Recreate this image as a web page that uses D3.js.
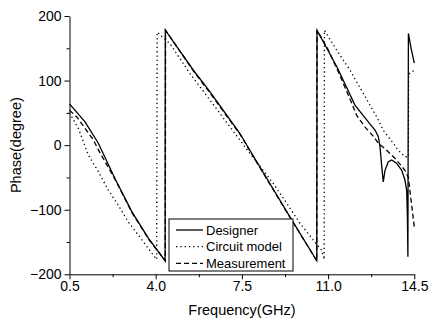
<!DOCTYPE html>
<html>
<head>
<meta charset="utf-8">
<script src="https://cdn.jsdelivr.net/npm/d3@7"></script>
<style>
  body { margin: 0; background: #fff; }
  svg { font-family: "Liberation Sans", Arial, sans-serif; }
  .axis path, .axis line { stroke: #000; stroke-width: 1; }
  .axis text { font-size: 14px; fill: #000; }
</style>
</head>
<body>
<svg id="chart" width="431" height="322"></svg>
<script>
// Designer (solid)
const designerFreq = [0.5, 1.13, 1.67, 2.35, 3.03, 3.7, 4.38,
  4.39, 5.53, 6.2, 7.42, 8.03, 9.45, 10.54,
  10.55, 11.36, 12.09, 12.63, 12.91, 13.04, 13.11, 13.18, 13.24, 13.31, 13.44, 13.58, 13.78, 13.99, 14.12, 14.19, 14.22, 14.24,
  14.26, 14.37, 14.5];
const designerPhase = [64, 36, 3, -52, -103, -144, -179,
  178, 116, 83, 18, -21, -111, -179,
  178, 121, 62, 36, 23, 13, -3, -34, -57, -39, -26, -23, -28, -39, -54, -70, -110, -173,
  173, 150, 127];

// Circuit model (dotted)
const circuitFreq = [0.5, 0.86, 1.26, 1.67, 2.08, 2.48, 2.89, 3.29, 3.7, 4.04,
  4.06, 4.58, 5.39, 6.2, 7.02, 7.83, 8.77, 9.32, 9.86, 10.4, 10.74, 10.84,
  10.85, 11.35, 11.89, 12.43, 12.97, 13.24, 13.44, 13.65, 13.85, 14.12, 14.26,
  14.27, 14.5];
const circuitPhase = [50, 26, -15, -41, -70, -93, -119, -139, -160, -177,
  175, 157, 111, 70, 28, -13, -59, -90, -121, -147, -163, -177,
  178, 147, 116, 80, 44, 23, 13, 3, -8, -18, -18,
  110, 116];

// Measurement (dashed)
const measureFreq = [0.5, 0.79, 1.13, 1.47, 1.74, 2.35, 3.03, 3.7, 4.39,
  4.4, 5.53, 6.2, 7.42, 8.03, 9.45, 10.54,
  10.55, 11.0, 11.41, 11.96, 12.16, 12.5, 12.83, 13.04, 13.38, 13.78, 14.12, 14.26, 14.32, 14.42, 14.5];
const measurePhase = [54, 44, 26, 8, -12, -53, -104, -145, -179,
  178, 115, 81, 17, -22, -112, -179,
  178, 148, 114, 65, 46, 28, 14, 3, -8, -23, -39, -50, -70, -101, -127];

const xMajor = [0.5, 4.0, 7.5, 11.0, 14.5];
const xMinor = [2.25, 5.75, 9.25, 12.75];
const yMajor = [-200, -100, 0, 100, 200];
const yMinor = [-150, -50, 50, 150];
const legendNames = ["Designer", "Circuit model", "Measurement"];
const dashes = [null, "1.3,3", "5,3"];

const svg = d3.select("#chart");
const plotLeft = 69.5, plotRight = 414.3, plotTop = 16, plotBottom = 274.3;

const x = d3.scaleLinear().domain([0.5, 14.5]).range([plotLeft, plotRight]);
const y = d3.scaleLinear().domain([-200, 200]).range([plotBottom, plotTop]);

// axes
svg.append("g").attr("class", "axis")
  .attr("transform", `translate(0,${plotBottom})`)
  .call(d3.axisBottom(x).tickValues(xMinor).tickSize(3).tickFormat(""))
  .call(g => g.select(".domain").remove());
svg.append("g").attr("class", "axis")
  .attr("transform", `translate(0,${plotBottom})`)
  .call(d3.axisBottom(x).tickValues(xMajor).tickSize(5).tickSizeOuter(0).tickPadding(2).tickFormat(d3.format(".1f")));

svg.append("g").attr("class", "axis")
  .attr("transform", `translate(${plotLeft},0)`)
  .call(d3.axisLeft(y).tickValues(yMinor).tickSize(3).tickFormat(""))
  .call(g => g.select(".domain").remove());
svg.append("g").attr("class", "axis")
  .attr("transform", `translate(${plotLeft},0)`)
  .call(d3.axisLeft(y).tickValues(yMajor).tickSize(5).tickSizeOuter(0).tickPadding(3));

// axis titles
svg.append("text")
  .attr("x", (plotLeft + plotRight) / 2)
  .attr("y", 315)
  .attr("text-anchor", "middle")
  .style("font-size", "14.5px")
  .text("Frequency(GHz)");
svg.append("text")
  .attr("transform", `translate(21,${(plotTop + plotBottom) / 2}) rotate(-90)`)
  .attr("text-anchor", "middle")
  .style("font-size", "14.5px")
  .text("Phase(degree)");

// curves
const line = d3.line().x(d => x(d[0])).y(d => y(d[1]));
const series = [
  d3.zip(designerFreq, designerPhase),
  d3.zip(circuitFreq, circuitPhase),
  d3.zip(measureFreq, measurePhase)
];
series.forEach((pts, i) => {
  svg.append("path")
    .datum(pts)
    .attr("d", line)
    .attr("fill", "none")
    .attr("stroke", "#000")
    .attr("stroke-width", 1.3)
    .attr("stroke-dasharray", dashes[i]);
});

// legend
const legend = svg.append("g").attr("transform", "translate(169,219)");
legend.append("rect")
  .attr("width", 124).attr("height", 52)
  .attr("fill", "#fff").attr("stroke", "#000");
legendNames.forEach((name, i) => {
  const cy = 11 + i * 16.7;
  legend.append("line")
    .attr("x1", 7).attr("x2", 34).attr("y1", cy).attr("y2", cy)
    .attr("stroke", "#000").attr("stroke-width", 1.3)
    .attr("stroke-dasharray", dashes[i]);
  legend.append("text")
    .attr("x", 37).attr("y", cy)
    .attr("dy", "0.35em")
    .style("font-size", "13px")
    .text(name);
});
</script>
</body>
</html>
